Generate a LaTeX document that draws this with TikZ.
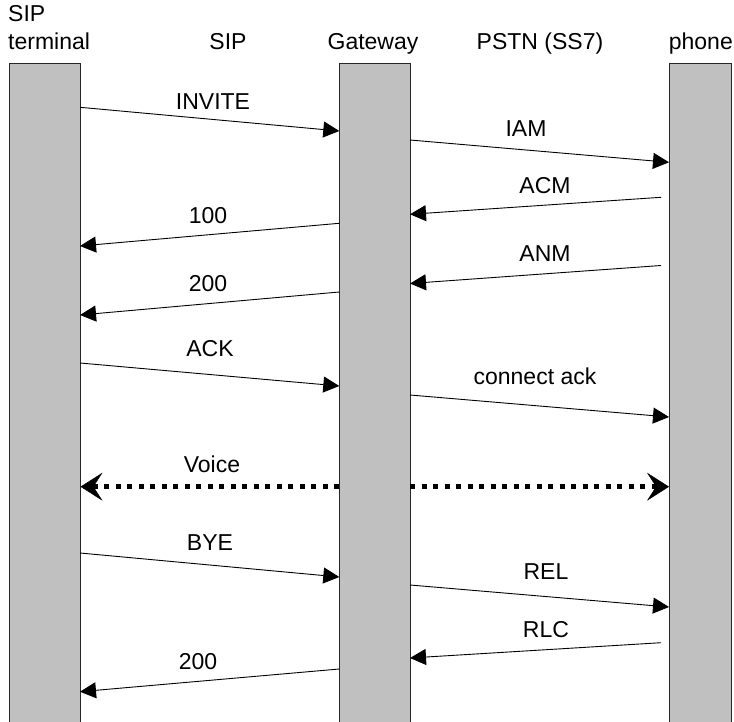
\documentclass[tikz,border=0pt]{standalone}
\usepackage{fontspec}
\setmainfont{Liberation Sans}
\usetikzlibrary{arrows.meta}
\definecolor{barGray}{HTML}{C0C0C0}
\begin{document}
\begin{tikzpicture}[x=1pt,y=-1pt,
  bar/.style={draw=black!85, line width=1pt, fill=barGray, inner sep=0pt, anchor=north west, minimum height=680pt},
  msg/.style={line width=0.9pt, -{Triangle[length=16pt,width=16pt]}},
  lbl/.style={anchor=base, inner sep=0pt, font=\fontsize{23}{27}\selectfont},
  voice/.style={line width=5pt, dash pattern=on 5pt off 6.5pt, -{Stealth[length=22pt,width=28pt,inset=9pt,line width=0.5pt]}}]
\useasboundingbox (0,0) rectangle (734,722);
% lifelines
\node[bar, minimum width=71.5pt] (term) at (8.5,62.7) {};
\node[bar, minimum width=70.7pt] (gw) at (339.3,62.7) {};
\node[bar, minimum width=62pt] (ph) at (669,62.7) {};
% headers
\node[lbl, anchor=base west] (h1a) at (8,22) {SIP};
\node[lbl, anchor=base west] (h1b) at (8,50) {terminal};
\node[lbl] (h2) at (228,50) {SIP};
\node[lbl] (h3) at (373,50) {Gateway};
\node[lbl] (h4) at (540,50) {PSTN (SS7)};
\node[lbl, anchor=base east] (h5) at (733,50) {phone};
% endpoints
\coordinate (a1s) at (80,107.3);   \coordinate (a1e) at (339.3,131);
\coordinate (a2s) at (410,140);    \coordinate (a2e) at (669,162.3);
\coordinate (a3s) at (661,197.3);  \coordinate (a3e) at (410,214.3);
\coordinate (a4s) at (339.3,223.3);\coordinate (a4e) at (80,246);
\coordinate (a5s) at (661,265.5);  \coordinate (a5e) at (410,283.5);
\coordinate (a6s) at (339.3,292);  \coordinate (a6e) at (80,315);
\coordinate (a7s) at (80,363);     \coordinate (a7e) at (339.3,386);
\coordinate (a8s) at (410,395);    \coordinate (a8e) at (669,417);
\coordinate (v1s) at (339.3,486.7);\coordinate (v1e) at (80.5,486.7);
\coordinate (v2s) at (410,486.7);  \coordinate (v2e) at (669,486.7);
\coordinate (a9s) at (80,553);     \coordinate (a9e) at (339.3,577);
\coordinate (a10s) at (410,585);   \coordinate (a10e) at (669,607);
\coordinate (a11s) at (661,642.7); \coordinate (a11e) at (410,658);
\coordinate (a12s) at (339.3,669); \coordinate (a12e) at (80,691.7);
% messages
\draw[msg] (a1s) -- (a1e);  \node[lbl] (l1) at (213,110) {INVITE};
\draw[msg] (a2s) -- (a2e);  \node[lbl] (l2) at (526,136.7) {IAM};
\draw[msg] (a3s) -- (a3e);  \node[lbl] (l3) at (545,193.5) {ACM};
\draw[msg] (a4s) -- (a4e);  \node[lbl] (l4) at (208,223.5) {100};
\draw[msg] (a5s) -- (a5e);  \node[lbl] (l5) at (545,261.5) {ANM};
\draw[msg] (a6s) -- (a6e);  \node[lbl] (l6) at (208,291.5) {200};
\draw[msg] (a7s) -- (a7e);  \node[lbl] (l7) at (210,356.5) {ACK};
\draw[msg] (a8s) -- (a8e);  \node[lbl] (l8) at (535,384) {connect ack};
\draw[voice] (v1s) -- (v1e); \draw[voice] (v2s) -- (v2e);
\node[lbl] (l9) at (212,472.5) {Voice};
\draw[msg] (a9s) -- (a9e);  \node[lbl] (l10) at (210,550.5) {BYE};
\draw[msg] (a10s) -- (a10e);\node[lbl] (l11) at (546,579.5) {REL};
\draw[msg] (a11s) -- (a11e);\node[lbl] (l12) at (546,637.5) {RLC};
\draw[msg] (a12s) -- (a12e);\node[lbl] (l13) at (198,669.3) {200};
\end{tikzpicture}
\end{document}
